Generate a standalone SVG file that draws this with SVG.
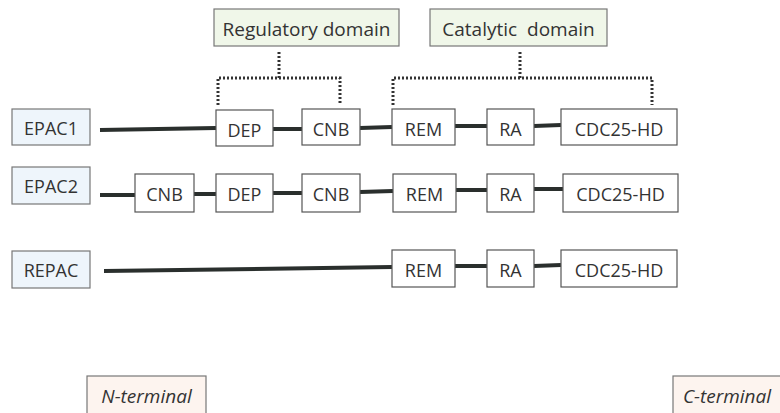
<svg xmlns="http://www.w3.org/2000/svg" width="780" height="413" viewBox="0 0 780 413">
<style>
text{font-family:"Open Sans","Liberation Sans",sans-serif;fill:#333;text-anchor:middle;dominant-baseline:central}
.lbl{fill:#eef5fb;stroke:#777;stroke-width:1.2}
.dom{fill:#f0f7e9;stroke:#777;stroke-width:1.2}
.box{fill:#fff;stroke:#555;stroke-width:1.2}
.term{fill:#fdf4ef;stroke:#777;stroke-width:1.2}
.ln{stroke:#2a2f2d;stroke-width:4;fill:none}
.dot{stroke:#333;stroke-width:3;stroke-dasharray:2 2;fill:none}
.t{font-size:18px}
.d{font-size:19px;white-space:pre}
.it{font-size:19px;font-style:italic}
</style>
<g id="connectors">
<line class="ln" x1="100" y1="130" x2="216" y2="128"/>
<line class="ln" x1="273" y1="129" x2="302" y2="129"/>
<line class="ln" x1="360" y1="128" x2="392" y2="127"/>
<line class="ln" x1="455" y1="126" x2="487" y2="126"/>
<line class="ln" x1="534" y1="126" x2="561" y2="125"/>
<line class="ln" x1="100" y1="195" x2="135" y2="195"/>
<line class="ln" x1="194" y1="194" x2="216" y2="194"/>
<line class="ln" x1="273" y1="193" x2="302" y2="193"/>
<line class="ln" x1="360" y1="192" x2="393" y2="191"/>
<line class="ln" x1="456" y1="190" x2="487" y2="190"/>
<line class="ln" x1="534" y1="189" x2="563" y2="189"/>
<line class="ln" x1="104" y1="271" x2="392" y2="267"/>
<line class="ln" x1="455" y1="266" x2="487" y2="266"/>
<line class="ln" x1="534" y1="266" x2="561" y2="265"/>
<path class="dot" d="M279 52 V78 M218 105 V78 H340 V105"/>
<path class="dot" d="M520 52 V78 M393 105 V78 H652 V105"/>
</g>
<g id="regulatory"><rect class="dom" x="214" y="9" width="185" height="37"/><text class="d" x="306.5" y="29">Regulatory domain</text></g>
<g id="catalytic"><rect class="dom" x="430" y="9" width="177" height="37"/><text class="d" x="518.5" y="29" xml:space="preserve">Catalytic  domain</text></g>
<g id="epac1">
<rect class="lbl" x="12" y="109" width="78" height="36"/><text class="t" x="51" y="128">EPAC1</text>
<rect class="box" x="216" y="110" width="57" height="36"/><text class="t" x="244.5" y="130">DEP</text>
<rect class="box" x="302" y="109" width="58" height="36"/><text class="t" x="331" y="129">CNB</text>
<rect class="box" x="392" y="109" width="63" height="36"/><text class="t" x="423.5" y="129">REM</text>
<rect class="box" x="487" y="109" width="47" height="36"/><text class="t" x="510.5" y="129">RA</text>
<rect class="box" x="561" y="109" width="116" height="36"/><text class="t" x="619" y="129">CDC25-HD</text>
</g>
<g id="epac2">
<rect class="lbl" x="12" y="167" width="78" height="37"/><text class="t" x="51" y="186">EPAC2</text>
<rect class="box" x="135" y="174" width="59" height="38"/><text class="t" x="164.5" y="194">CNB</text>
<rect class="box" x="216" y="174" width="57" height="38"/><text class="t" x="244.5" y="194">DEP</text>
<rect class="box" x="302" y="174" width="58" height="38"/><text class="t" x="331" y="194">CNB</text>
<rect class="box" x="393" y="174" width="63" height="38"/><text class="t" x="424.5" y="194">REM</text>
<rect class="box" x="487" y="174" width="47" height="38"/><text class="t" x="510.5" y="194">RA</text>
<rect class="box" x="563" y="174" width="115" height="38"/><text class="t" x="620.5" y="194">CDC25-HD</text>
</g>
<g id="repac">
<rect class="lbl" x="12" y="251" width="78" height="37"/><text class="t" x="51" y="270">REPAC</text>
<rect class="box" x="392" y="250" width="63" height="37"/><text class="t" x="423.5" y="270">REM</text>
<rect class="box" x="487" y="250" width="47" height="37"/><text class="t" x="510.5" y="270">RA</text>
<rect class="box" x="561" y="250" width="116" height="37"/><text class="t" x="619" y="270">CDC25-HD</text>
</g>
<g id="nterm"><rect class="term" x="87" y="376" width="119" height="45"/><text class="it" x="146.5" y="396">N-terminal</text></g>
<g id="cterm"><rect class="term" x="673" y="376" width="120" height="45"/><text class="it" x="727" y="396">C-terminal</text></g>
</svg>
